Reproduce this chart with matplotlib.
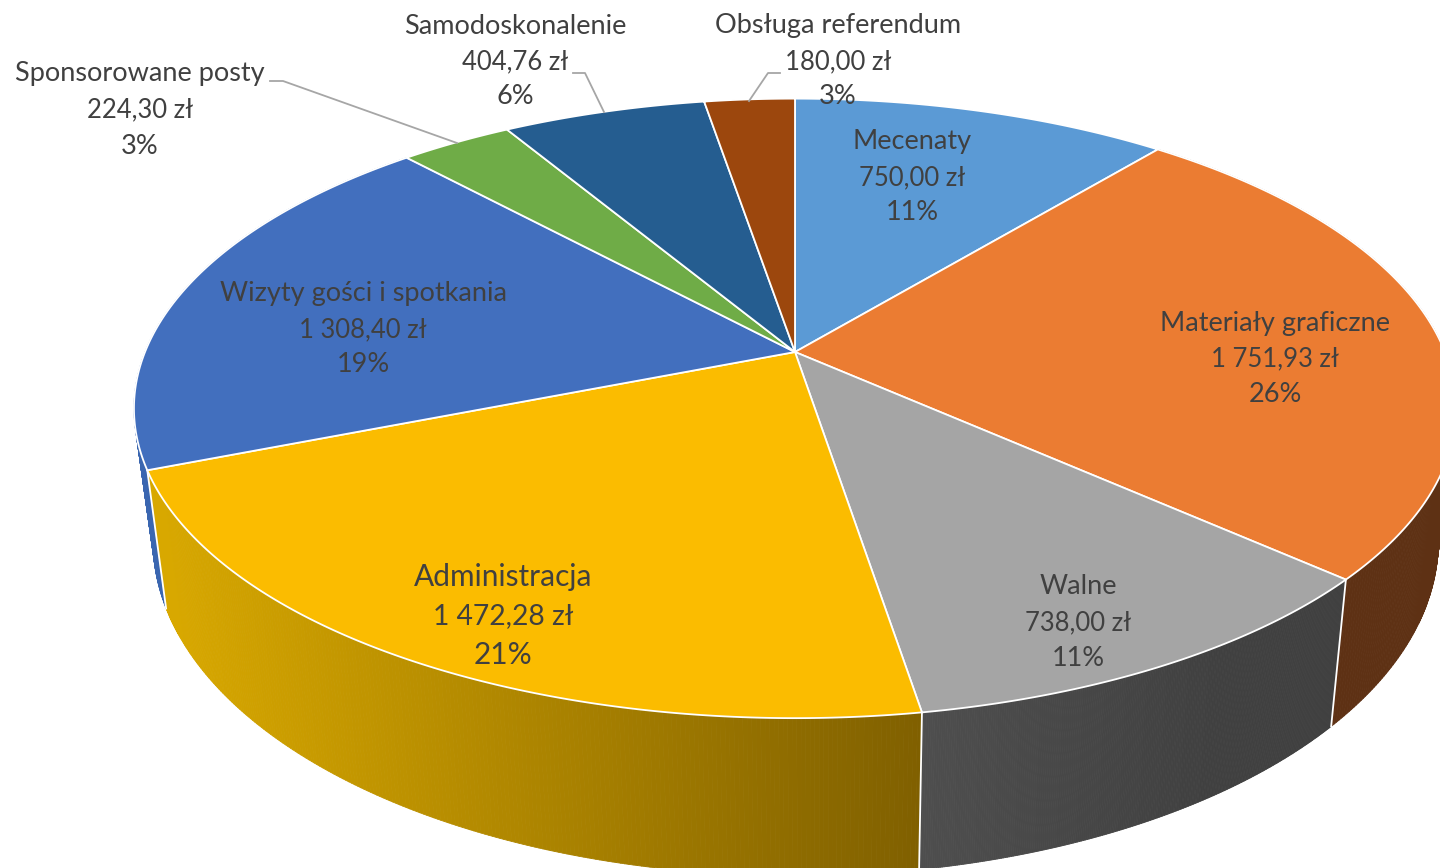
import numpy as np
import matplotlib
matplotlib.use("Agg")
import matplotlib.pyplot as plt
from matplotlib.collections import PolyCollection
from matplotlib.colors import to_rgb

categories = ["Mecenaty", "Materiały graficzne", "Walne", "Administracja",
              "Wizyty gości i spotkania", "Sponsorowane posty", "Samodoskonalenie",
              "Obsługa referendum"]
values = [750.00, 1751.93, 738.00, 1472.28, 1308.40, 224.30, 404.76, 180.00]
value_labels = ["750,00 zł", "1 751,93 zł", "738,00 zł", "1 472,28 zł",
                "1 308,40 zł", "224,30 zł", "404,76 zł", "180,00 zł"]
percent_labels = ["11%", "26%", "11%", "21%", "19%", "3%", "6%", "3%"]
top_colors = ["#5B9AD5", "#EB7C32", "#A5A5A5", "#FBBC00", "#426FBE", "#6FAC47", "#255D90", "#9C470D"]

# wall colours: left end / right end of the gradient
wall_left = {1: "#5E3114", 2: "#4E4E4E", 3: "#D8A800", 4: "#3A66B0"}
wall_right = {1: "#5E3114", 2: "#404040", 3: "#806000", 4: "#3A66B0"}
wall_x = {1: (1333, 1456), 2: (925, 1220), 3: (160, 920), 4: (135, 165)}

# label layout: centre x, first line y, line step, font size
label_pos = [(912, 142, 35.5, 19.5), (1275, 323, 36, 19.5), (1078, 587, 35.5, 19.5),
             (503, 577, 39, 21.5), (363, 294, 35.5, 19.5), (140, 74, 36, 19.5),
             (515, 26, 35.5, 19.5), (838, 26, 35.5, 19.5)]
leaders = [([270, 283, 457], [81, 81, 143]),
           ([573, 585, 604], [73, 73, 112]),
           ([780, 768, 749], [73, 73, 101])]

# projected circle of the pie top
CX, CY = 795, 352
A, B, P = 650, 299.5, 0.182
# rim: x shrinks towards VX, wall height grows with nearness
VX, SX, H = 820, 0.972, 129


def top_xy(a):
    d = 1 + P * np.cos(a)
    return CX + A * np.sin(a) / d, CY - B * np.cos(a) / d


def bottom_xy(a):
    x, y = top_xy(a)
    d = 1 + P * np.cos(a)
    return VX + (x - VX) * SX, y + H / d


plt.rcParams['font.family'] = ['Lato', 'DejaVu Sans']
fig = plt.figure(figsize=(14.4, 8.68), dpi=100)
ax = fig.add_axes([0, 0, 1, 1])
ax.set_xlim(0, 1440)
ax.set_ylim(868, 0)
ax.axis("off")

edges = np.concatenate([[0], np.cumsum(values)]) / np.sum(values) * 2 * np.pi

# side walls, back to front
for i in [4, 1, 2, 3]:
    t = np.linspace(edges[i], edges[i + 1], 240)
    xt, yt = top_xy(t)
    xb, yb = bottom_xy(t)
    polys = []
    cols = []
    c0 = np.array(to_rgb(wall_left[i]))
    c1 = np.array(to_rgb(wall_right[i]))
    x0, x1 = wall_x[i]
    for j in range(len(t) - 1):
        polys.append([(xt[j], yt[j]), (xt[j + 1], yt[j + 1]), (xb[j + 1], yb[j + 1]), (xb[j], yb[j])])
        f = np.clip(((xt[j] + xt[j + 1]) / 2 - x0) / (x1 - x0), 0, 1)
        cols.append(c0 + (c1 - c0) * f)
    ax.add_collection(PolyCollection(polys, facecolors=cols, edgecolors=cols, linewidths=0.6, zorder=2))

# white seams between the walls
for a in edges[2:5]:
    x, y = top_xy(a)
    x2, y2 = bottom_xy(a)
    ax.plot([x, x2], [y, y2], color="white", lw=1.3, zorder=3)

# top face
for i, c in enumerate(top_colors):
    t = np.linspace(edges[i], edges[i + 1], 200)
    x, y = top_xy(t)
    ax.fill(np.r_[CX, x], np.r_[CY, y], facecolor=c, edgecolor="white", lw=1.3,
            joinstyle="miter", zorder=4)

for lx, ly in leaders:
    ax.plot(lx, ly, color="#A6A6A6", lw=1.3, zorder=5)

for i, (x, y, step, size) in enumerate(label_pos):
    # Lato digits run wider than the original font, so the amount line is a bit smaller
    lines = [(categories[i], size), (value_labels[i], size * 0.945), (percent_labels[i], size)]
    for k, (s, fs) in enumerate(lines):
        ax.text(x, y + k * step, s, ha="center", va="center", fontsize=fs, color="#404040", zorder=6)

fig.savefig("out.png", dpi=100, facecolor="white")
